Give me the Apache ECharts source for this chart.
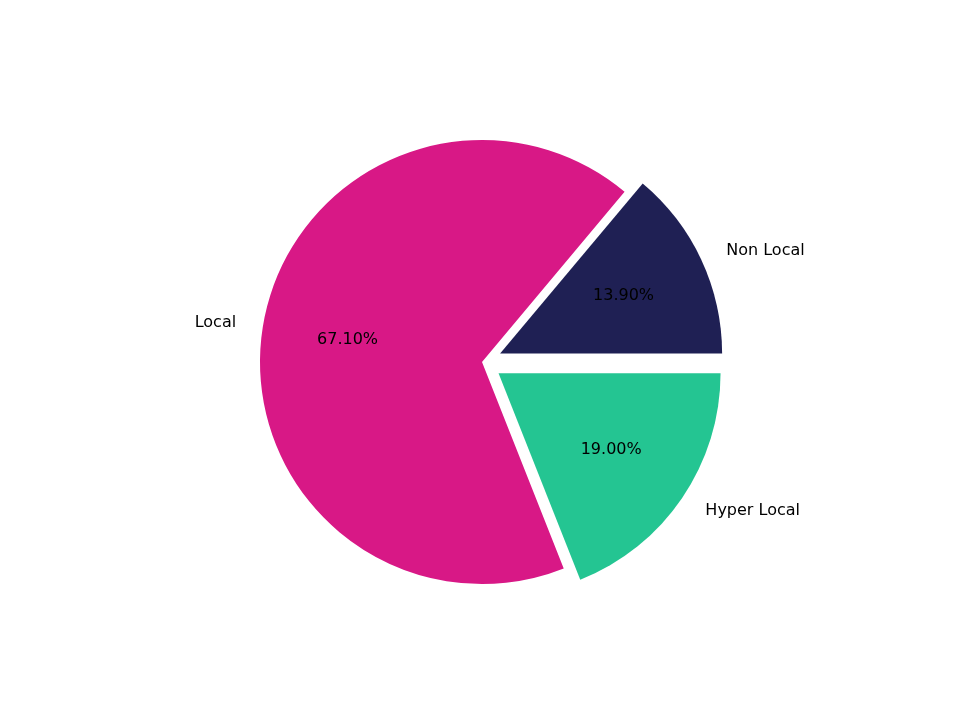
<!DOCTYPE html>
<html><head><meta charset="utf-8">
<script src="https://cdn.jsdelivr.net/npm/echarts@6/dist/echarts.min.js"></script>
<style>html,body{margin:0;padding:0;background:#fff}#c{width:960px;height:720px}</style>
</head><body><div id="c"></div>
<script>
const categories = ['Non Local', 'Local', 'Hyper Local'];
const values = [13.9, 67.1, 19.0];
const exploded = [true, false, true];
const colors = ['#1f2054', '#d81886', '#24c592'];

const chart = echarts.init(document.getElementById('c'));
const R = 222;
const common = {
  type: 'pie', center: [482, 362], startAngle: 0, clockwise: false,
  selectedMode: 'multiple', selectedOffset: 20, animation: false,
  emphasis: {disabled: true}
};
chart.setOption({
  series: [
    Object.assign({}, common, {
      radius: [0, R],
      label: {show: true, position: 'outside', fontFamily: 'DejaVu Sans', fontSize: 16, color: '#000',
        formatter: p => p.name},
      labelLine: {show: false, length: 22, length2: 0},
      data: categories.map((n, i) => ({name: n, value: values[i], selected: exploded[i],
        itemStyle: {color: colors[i]}}))
    }),
    Object.assign({}, common, {
      radius: [R * 0.2, R], silent: true,
      label: {show: true, position: 'inside', fontFamily: 'DejaVu Sans', fontSize: 16, color: '#000',
        formatter: p => p.value.toFixed(2) + '%'},
      data: categories.map((n, i) => ({name: n, value: values[i], selected: exploded[i],
        itemStyle: {color: 'rgba(0,0,0,0)'}}))
    })
  ]
});
</script></body></html>
